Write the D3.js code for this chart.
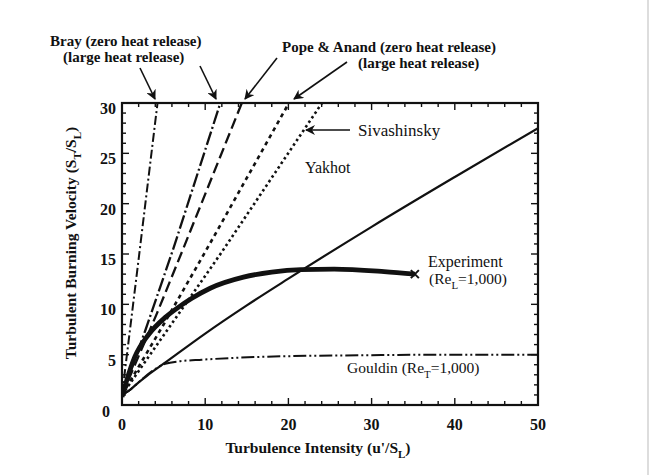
<!DOCTYPE html>
<html>
<head>
<meta charset="utf-8">
<script src="https://cdn.jsdelivr.net/npm/d3@7"></script>
<style>
  body { margin: 0; background: #fff; }
  text { font-family: "Liberation Serif", "DejaVu Serif", serif; fill: #111; }
</style>
</head>
<body>
<div id="chart"></div>
<script>
// data: [u'/S_L, S_T/S_L]
const xTicks = [0, 10, 20, 30, 40, 50];
const yTicks = [0, 5, 10, 15, 20, 25, 30];

const brayZero = [[0, 1], [2.0, 14.5], [4.3, 30.2]];
const brayLarge = [[0, 1], [2.8, 7.4], [6.2, 15.6], [11.9, 30.2]];
const popeZero = [[0, 1], [4.2, 9.1], [7.2, 15.2], [14.5, 30.2]];
const popeLarge = [[0, 1], [5, 8.0], [10, 15.2], [20.2, 30.2]];
const sivashinsky = [[0, 1], [6, 8.1], [12, 15.2], [24.2, 30.2]];
const yakhot = [[0, 1], [0.8, 1.4], [2, 2.25], [3, 2.9], [5, 4.1], [10, 7.1],
  [15, 9.9], [20, 12.55], [30, 17.7], [40, 22.65], [50, 27.5]];
const experiment = [[0, 0.8], [0.55, 2.4], [1.55, 4.8], [3.2, 7.0], [5.2, 8.7],
  [6.6, 9.6], [8.4, 10.6], [10.6, 11.6], [14.6, 12.7], [18, 13.2], [21.5, 13.45],
  [25.5, 13.5], [31.5, 13.25], [35.2, 13.0]];
const gouldin = [[0, 1], [0.8, 1.4], [2, 2.25], [3.5, 3.3], [5.2, 4.1], [7, 4.35],
  [9.6, 4.5], [14, 4.7], [20, 4.85], [30, 4.95], [40, 5.0], [50, 5.0]];

const width = 668, height = 475;
const margin = { top: 103, right: 130, bottom: 70, left: 122 };
const innerW = width - margin.left - margin.right;
const innerH = height - margin.top - margin.bottom;

const svg = d3.select('#chart')
  .append('svg')
  .attr('width', width)
  .attr('height', height);

const g = svg.append('g')
  .attr('transform', `translate(${margin.left},${margin.top})`);

const x = d3.scaleLinear().domain([0, 50]).range([0, innerW]);
const y = d3.scaleLinear().domain([0, 30]).range([innerH, 0]);

svg.append('defs').append('clipPath').attr('id', 'plot')
  .append('rect').attr('width', innerW).attr('height', innerH);

svg.select('defs').append('marker')
  .attr('id', 'arrow')
  .attr('viewBox', '0 0 10 10')
  .attr('refX', 9).attr('refY', 5)
  .attr('markerWidth', 10).attr('markerHeight', 10)
  .attr('markerUnits', 'userSpaceOnUse')
  .attr('orient', 'auto')
  .append('path').attr('d', 'M0,0L10,5L0,10L3,5Z').attr('fill', '#111');

// ticks on all four sides, pointing inward
const xMinor = d3.range(0, 51, 2);
const yMinor = d3.range(0, 31, 1);
const tickLen = v => (v % 10 === 0 ? 7 : 4);
const tickLenY = v => (v % 5 === 0 ? 7 : 4);

const ticks = g.append('g').attr('stroke', '#111').attr('stroke-width', 1.4);
ticks.selectAll('.xb').data(xMinor).join('line')
  .attr('x1', d => x(d)).attr('x2', d => x(d))
  .attr('y1', innerH).attr('y2', d => innerH - tickLen(d));
ticks.selectAll('.xt').data(xMinor).join('line')
  .attr('x1', d => x(d)).attr('x2', d => x(d))
  .attr('y1', 0).attr('y2', d => tickLen(d));
ticks.selectAll('.yl').data(yMinor).join('line')
  .attr('y1', d => y(d)).attr('y2', d => y(d))
  .attr('x1', 0).attr('x2', d => tickLenY(d));
ticks.selectAll('.yr').data(yMinor).join('line')
  .attr('y1', d => y(d)).attr('y2', d => y(d))
  .attr('x1', innerW).attr('x2', d => innerW - tickLenY(d));

g.append('rect')
  .attr('width', innerW).attr('height', innerH)
  .attr('fill', 'none').attr('stroke', '#111').attr('stroke-width', 2.2);

// tick labels
g.append('g').selectAll('text').data(xTicks).join('text')
  .attr('x', d => x(d)).attr('y', innerH + 25)
  .attr('text-anchor', 'middle')
  .attr('font-size', 16).attr('font-weight', 'bold')
  .text(d => d);
g.append('g').selectAll('text').data(yTicks).join('text')
  .attr('x', d => (d === 0 ? -12 : -6)).attr('y', d => y(d) + (d === 0 ? 12 : 11))
  .attr('text-anchor', 'end')
  .attr('font-size', 16).attr('font-weight', 'bold')
  .text(d => d);

// axis titles
const xt = svg.append('text')
  .attr('x', 318).attr('y', 453)
  .attr('text-anchor', 'middle')
  .attr('font-size', 15.5).attr('font-weight', 'bold');
xt.append('tspan').text("Turbulence Intensity (u'/S");
xt.append('tspan').attr('font-size', 11).attr('dy', 5).text('L');
xt.append('tspan').attr('dy', -5).text(')');

const yt = svg.append('text')
  .attr('transform', 'translate(76,243) rotate(-90)')
  .attr('text-anchor', 'middle')
  .attr('font-size', 15.5).attr('font-weight', 'bold');
yt.append('tspan').text('Turbulent Burning Velocity (S');
yt.append('tspan').attr('font-size', 11).attr('dy', 5).text('T');
yt.append('tspan').attr('dy', -5).text('/S');
yt.append('tspan').attr('font-size', 11).attr('dy', 5).text('L');
yt.append('tspan').attr('dy', -5).text(')');

// curves
const straight = d3.line().x(d => x(d[0])).y(d => y(d[1]));
const smooth = d3.line().x(d => x(d[0])).y(d => y(d[1])).curve(d3.curveMonotoneX);

const series = [
  { data: brayZero, line: straight, w: 2, dash: '9,3,2,3' },
  { data: brayLarge, line: straight, w: 2.3, dash: '14,3,2,3' },
  { data: popeZero, line: straight, w: 2.3, dash: '11,5' },
  { data: popeLarge, line: straight, w: 2.6, dash: '4,4' },
  { data: sivashinsky, line: straight, w: 2.6, dash: '2.5,3' },
  { data: yakhot, line: smooth, w: 2.2, dash: null },
  { data: gouldin, line: smooth, w: 2, dash: '13,3,2,3,2,3' },
  { data: experiment, line: smooth, w: 4.8, dash: null }
];

const plot = g.append('g').attr('clip-path', 'url(#plot)');
plot.selectAll('path').data(series).join('path')
  .attr('d', d => d.line(d.data))
  .attr('fill', 'none')
  .attr('stroke', '#111')
  .attr('stroke-width', d => d.w)
  .attr('stroke-dasharray', d => d.dash)
  .attr('stroke-linecap', 'butt')
  .attr('stroke-linejoin', 'round');

// end marker of the experiment
const last = experiment[experiment.length - 1];
g.append('path')
  .attr('d', `M${x(last[0]) - 4},${y(last[1]) - 4}l8,8M${x(last[0]) - 4},${y(last[1]) + 4}l8,-8`)
  .attr('stroke', '#111').attr('stroke-width', 2);

// annotations; an object part {s: '...'} is a subscript
const note = (tx, ty, parts, size, weight) => {
  const t = svg.append('text').attr('x', tx).attr('y', ty)
    .attr('font-size', size).attr('font-weight', weight);
  let down = false;
  parts.forEach(p => {
    if (typeof p === 'object') {
      t.append('tspan').attr('font-size', size * 0.7).attr('dy', 5).text(p.s);
      down = true;
    } else {
      t.append('tspan').attr('dy', down ? -5 : 0).text(p);
      down = false;
    }
  });
  return t;
};

note(50, 46, ['Bray (zero heat release)'], 15, 'bold');
note(63, 62, ['(large heat release)'], 15, 'bold');
note(282, 52, ['Pope & Anand (zero heat release)'], 15, 'bold');
note(358, 68, ['(large heat release)'], 15, 'bold');
note(358, 136, ['Sivashinsky'], 17, 'normal');
note(305, 173, ['Yakhot'], 16, 'normal');
note(428, 267, ['Experiment'], 16, 'normal');
note(429, 284, ['(Re', { s: 'L' }, '=1,000)'], 15.5, 'normal');
note(347, 373, ['Gouldin (Re', { s: 'T' }, '=1,000)'], 15.5, 'normal');

const arrows = [
  [140, 68, 155, 99],
  [200, 66, 216, 99],
  [277, 58, 245, 99],
  [347, 62, 294, 99],
  [350, 130, 306, 130]
];
svg.append('g').selectAll('line').data(arrows).join('line')
  .attr('x1', d => d[0]).attr('y1', d => d[1])
  .attr('x2', d => d[2]).attr('y2', d => d[3])
  .attr('stroke', '#111').attr('stroke-width', 1.6)
  .attr('marker-end', 'url(#arrow)');

// scan edge at the right
svg.append('line')
  .attr('x1', 648).attr('x2', 648).attr('y1', 0).attr('y2', height)
  .attr('stroke', '#bbb').attr('stroke-width', 1);
</script>
</body>
</html>
